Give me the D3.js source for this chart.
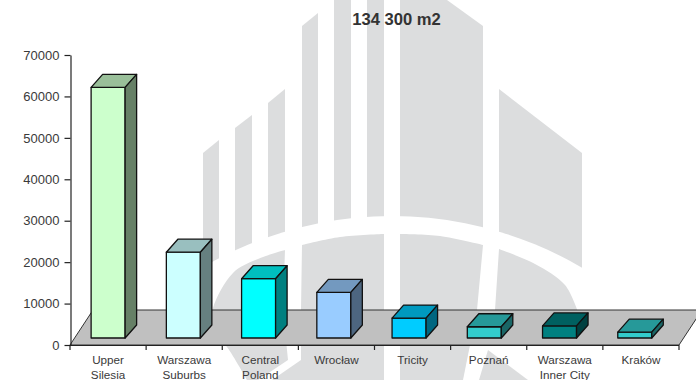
<!DOCTYPE html>
<html>
<head>
<meta charset="utf-8">
<script src="https://cdnjs.cloudflare.com/ajax/libs/d3/7.8.5/d3.min.js"></script>
<style>
  html, body { margin: 0; padding: 0; background: #fff; }
  svg { display: block; font-family: "Liberation Sans", Arial, sans-serif; }
</style>
</head>
<body>
<svg id="chart" width="696" height="380"></svg>
<script>
// Leased space by market, m2
const categories = [
  ["Upper", "Silesia"],
  ["Warszawa", "Suburbs"],
  ["Central", "Poland"],
  ["Wrocław"],
  ["Tricity"],
  ["Poznań"],
  ["Warszawa", "Inner City"],
  ["Kraków"]
];
const values = [62200, 22400, 16000, 12700, 6500, 4400, 4600, 3100];
const barColors = ["#CCFFCC", "#CCFFFF", "#00FFFF", "#99CCFF", "#00CCFF", "#33CCCC", "#008080", "#33CCCC"];
const yTicks = [0, 10000, 20000, 30000, 40000, 50000, 60000, 70000];
const titleText = "134 300 m2";

const svg = d3.select("#chart");
const inkText = "#3a3a3a";

// Labels and ticks use the front edge of the floor; bars stand slightly further back on it
const x = d3.scaleBand().domain(d3.range(categories.length)).range([70, 679]);
const gap = 0.548;
const xBar = d3.scaleBand().domain(d3.range(categories.length)).range([70.5, 672.4])
  .paddingInner(gap).paddingOuter(gap / 2);
const y = d3.scaleLinear().domain([0, 70000]).range([345, 55]);

// Company emblem behind the plot: a tower of strips above a divided globe
const emblemGrey = "#dcddde";
const emblem = svg.append("g");
const strips = [
  [[203, 153], [219, 140]],
  [[235, 128], [252, 115]],
  [[268, 103], [285, 89]],
  [[302, 26], [318, 13]],
  [[334, -10], [351, -20]],
  [[367, -30], [384, -40]],
  [[400, -60], [447, 0], [483, 26]],
  [[499, 89], [582, 153]]
];
emblem.selectAll("path.strip").data(strips).join("path")
  .attr("class", "strip")
  .attr("fill", emblemGrey)
  .attr("d", s => {
    const first = s[0], last = s[s.length - 1];
    return "M" + [[first[0], 400], ...s, [last[0], 400]].map(p => p.join(",")).join("L") + "Z";
  });
// White sweep that cuts the strips off
emblem.append("circle").attr("cx", 392).attr("cy", 591).attr("r", 375).attr("fill", "#fff");

const smooth = d3.line().curve(d3.curveCatmullRom.alpha(0.5));
const straight = d3.line();
const globeParts = [
  smooth([[285, 250], [258, 259], [233, 273], [213, 308], [212, 330], [227, 347], [247, 380]]) +
    "L258,380L288,360L283,310Z",
  smooth([[302, 245], [340, 237], [384, 234]]) + "L384,380L272,380L301,360L301,310Z",
  smooth([[400, 234], [440, 236], [483, 245]]) + "L477,310L463,380L400,380Z",
  smooth([[499, 249], [535, 264], [565, 285], [578, 312]]) + "L560,340L493,340L495,310Z",
  straight([[488, 350], [528, 380], [479, 380]]) + "Z"
];
emblem.selectAll("path.globe").data(globeParts).join("path")
  .attr("class", "globe")
  .attr("fill", emblemGrey)
  .attr("d", d => d);

// Floor of the 3D plot, running off the right-hand edge
svg.append("path")
  .attr("d", straight([[70, 345], [93, 310], [702, 310], [679, 345]]) + "Z")
  .attr("fill", "#c0c0c0")
  .attr("stroke", "#333")
  .attr("stroke-width", 1);

// Value axis
const yAxis = svg.append("g")
  .attr("transform", "translate(70.5,0)")
  .call(d3.axisLeft(y).tickValues(yTicks).tickFormat(d3.format("d")).tickSize(6).tickSizeOuter(0).tickPadding(5));
yAxis.selectAll("path,line").attr("stroke", "#222").attr("stroke-width", 1.2);
yAxis.selectAll("text").attr("font-size", 13).attr("font-family", "Liberation Sans").attr("fill", inkText);

// Category axis: ticks sit on band boundaries, labels between them
const step = x.step();
const tickEdges = d3.range(categories.length + 1).map(i => 70 + i * step);
svg.append("g").selectAll("line").data(tickEdges).join("line")
  .attr("x1", d => d).attr("x2", d => d)
  .attr("y1", 345).attr("y2", 350)
  .attr("stroke", "#222").attr("stroke-width", 1.2);
svg.append("line")
  .attr("x1", 70).attr("x2", 679).attr("y1", 345.5).attr("y2", 345.5)
  .attr("stroke", "#222").attr("stroke-width", 1.2);

const labels = svg.append("g").attr("text-anchor", "middle").attr("font-size", 11.7).attr("fill", inkText);
categories.forEach((lines, i) => {
  const t = labels.append("text").attr("x", x(i) + x.bandwidth() / 2);
  lines.forEach((line, j) => {
    t.append("tspan").attr("x", x(i) + x.bandwidth() / 2).attr("y", 364 + j * 15).text(line);
  });
});

// Extruded bars: front, top and side faces
const depthX = 11.5, depthY = 13, barFoot = 338;
const shade = (c, k) => {
  const r = d3.rgb(c);
  return d3.rgb(r.r * k, r.g * k, r.b * k).formatHex();
};
const bars = svg.append("g").selectAll("g").data(values).join("g")
  .attr("stroke", "#111").attr("stroke-width", 1.3).attr("stroke-linejoin", "round");
bars.each(function (v, i) {
  const g = d3.select(this);
  const x0 = xBar(i), x1 = x0 + xBar.bandwidth(), top = y(v);
  g.append("path").attr("fill", barColors[i])
    .attr("d", straight([[x0, top], [x1, top], [x1, barFoot], [x0, barFoot]]) + "Z");
  g.append("path").attr("fill", shade(barColors[i], 0.75))
    .attr("d", straight([[x0, top], [x0 + depthX, top - depthY], [x1 + depthX, top - depthY], [x1, top]]) + "Z");
  g.append("path").attr("fill", shade(barColors[i], 0.5))
    .attr("d", straight([[x1, top], [x1 + depthX, top - depthY], [x1 + depthX, barFoot - depthY], [x1, barFoot]]) + "Z");
});

svg.append("text")
  .attr("x", 396.5).attr("y", 25)
  .attr("text-anchor", "middle")
  .attr("font-size", 16.6).attr("font-weight", "bold").attr("fill", "#333")
  .text(titleText);
</script>
</body>
</html>
